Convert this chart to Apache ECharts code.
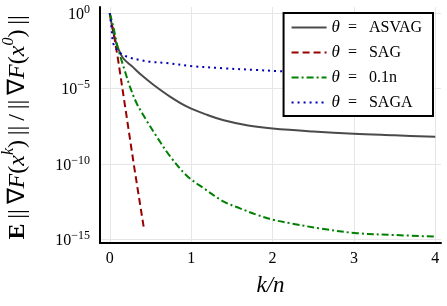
<!DOCTYPE html>
<html>
<head>
<meta charset="utf-8">
<script src="https://cdn.jsdelivr.net/npm/echarts@6/dist/echarts.min.js"></script>
<style>
  html, body { margin: 0; padding: 0; background: #fff; }
  #chart { width: 447px; height: 306px; }
</style>
</head>
<body>
<div id="chart"></div>
<script>
// series names (legend order)
var names = ['θ = ASVAG', 'θ = SAG', 'θ = 0.1n', 'θ = SAGA']

// x positions (k/n) and log10 of E||∇F(x^k)||/||∇F(x^0)||
var asvagX = [0, 0.05, 0.1, 0.167, 0.27, 0.4, 0.54, 0.74, 0.95, 1.2, 1.4, 1.7, 2.0, 2.5, 3.0, 3.5, 4.0]
var asvagLog = [0, -1.4, -2.3, -3.0, -3.5, -4.15, -4.76, -5.53, -6.2, -6.75, -7.1, -7.45, -7.65, -7.85, -8.0, -8.1, -8.2]

var sagX = [0, 0.05, 0.1, 0.2, 0.3, 0.42]
var sagLog = [0, -1.4, -3.0, -6.6, -10.2, -14.3]

var fracX = [0, 0.04, 0.1, 0.184, 0.25, 0.333, 0.45, 0.578, 0.742, 0.95, 1.15, 1.4, 1.6, 1.81, 2.0, 2.22, 2.6, 3.04, 3.5, 4.0]
var fracLog = [0, -0.8, -2.3, -3.8, -4.9, -6.0, -7.1, -8.2, -9.5, -10.8, -11.6, -12.5, -12.95, -13.38, -13.7, -13.94, -14.3, -14.6, -14.72, -14.83]

var sagaX = [0, 0.02, 0.044, 0.1, 0.167, 0.25, 0.37, 0.5, 0.7, 1.0, 1.4, 1.8, 2.05, 2.5, 3.0, 3.5, 4.0]
var sagaLog = [0, -0.9, -2.0, -2.5, -2.77, -2.95, -3.1, -3.22, -3.3, -3.5, -3.65, -3.76, -3.83, -3.92, -4.0, -4.07, -4.13]

// tick values
var xTicks = [0, 1, 2, 3, 4]
var yTicks = [1e-15, 1e-10, 1e-5, 1]

var FONT = 'Liberation Serif'

function pairs (xs, logs) {
  return xs.map(function (x, i) { return [x, Math.pow(10, logs[i])] })
}

function line (name, xs, logs, color, dash, smooth) {
  return {
    name: name,
    type: 'line',
    data: pairs(xs, logs),
    symbol: 'none',
    smooth: smooth,
    lineStyle: { color: color, width: 2, type: dash },
    itemStyle: { color: color }
  }
}

var chart = echarts.init(document.getElementById('chart'))

var sp = '\u2009'
var bars = sp + '||' + sp

var option = {
  animation: false,
  backgroundColor: '#fff',
  grid: { left: 100, right: 6, top: 7, bottom: 63, outerBoundsMode: 'none', containLabel: false },
  legend: {
    data: names,
    orient: 'vertical',
    right: 14,
    top: 13,
    backgroundColor: '#fff',
    borderColor: '#000',
    borderWidth: 2,
    borderRadius: 0,
    padding: [6, 11, 5, 7],
    itemWidth: 35,
    itemHeight: 14,
    itemGap: 8,
    // hide the marker drawn in the middle of the legend line
    itemStyle: { color: 'transparent', borderColor: 'transparent', borderWidth: 0 },
    textStyle: {
      fontFamily: FONT,
      fontSize: 16,
      color: '#000',
      rich: {
        i: { fontFamily: FONT, fontSize: 17, fontStyle: 'italic', color: '#000' }
      }
    },
    formatter: function (n) {
      return '{i|θ}  =   ' + n.split('= ')[1]
    }
  },
  xAxis: {
    type: 'value',
    min: -0.12,
    max: 4.07,
    name: 'k/n',
    nameLocation: 'middle',
    nameGap: 31,
    nameTextStyle: { fontFamily: FONT, fontSize: 23, fontStyle: 'italic', color: '#000' },
    axisLine: { show: true, onZero: false, lineStyle: { color: '#000', width: 2 } },
    axisTick: { show: false, customValues: xTicks },
    axisLabel: {
      customValues: xTicks,
      fontFamily: FONT,
      fontSize: 16,
      color: '#000',
      margin: 8
    },
    splitLine: { show: true, lineStyle: { color: '#e6e6e6', width: 1 } }
  },
  yAxis: {
    type: 'log',
    logBase: 10,
    min: Math.pow(10, -15.25),
    max: Math.pow(10, 0.42),
    name: '{b|E}{n|' + bars + '∇}{i|F}{n|(}{i|x}{s|k}{n|)' + bars + '/' + bars + '∇}{i|F}{n|(}{i|x}{s|0}{n|)' + bars + '}',
    nameLocation: 'middle',
    nameRotate: 90,
    nameGap: 70,
    nameTextStyle: {
      fontFamily: FONT,
      fontSize: 24,
      color: '#000',
      rich: {
        b: { fontFamily: FONT, fontSize: 24, fontWeight: 'bold', color: '#000', verticalAlign: 'bottom' },
        n: { fontFamily: FONT, fontSize: 24, color: '#000', verticalAlign: 'bottom' },
        i: { fontFamily: FONT, fontSize: 24, fontStyle: 'italic', color: '#000', verticalAlign: 'bottom' },
        s: { fontFamily: FONT, fontSize: 16, fontStyle: 'italic', color: '#000', verticalAlign: 'bottom', padding: [0, 0, 13, 0] }
      }
    },
    axisLine: { show: true, onZero: false, lineStyle: { color: '#000', width: 2 } },
    axisTick: { show: false, customValues: yTicks },
    axisLabel: {
      customValues: yTicks,
      margin: 10,
      formatter: function (v) {
        var e = Math.round(Math.log10(v))
        return '{b|10}{s|' + (e === 0 ? '0' : '−' + (-e)) + '}'
      },
      rich: {
        b: { fontFamily: FONT, fontSize: 16, color: '#000', verticalAlign: 'bottom' },
        s: { fontFamily: FONT, fontSize: 12, color: '#000', verticalAlign: 'bottom', padding: [0, 0, 7, 0] }
      }
    },
    splitLine: { show: true, lineStyle: { color: '#e6e6e6', width: 1 } }
  },
  series: [
    line(names[0], asvagX, asvagLog, '#4a4a4a', 'solid', 0.35),
    line(names[1], sagX, sagLog, '#990000', [7, 4], false),
    line(names[2], fracX, fracLog, '#008000', [7, 3, 2, 3], 0.35),
    line(names[3], sagaX, sagaLog, '#0000b4', [2, 4], 0.35)
  ]
}

chart.setOption(option)
</script>
</body>
</html>
